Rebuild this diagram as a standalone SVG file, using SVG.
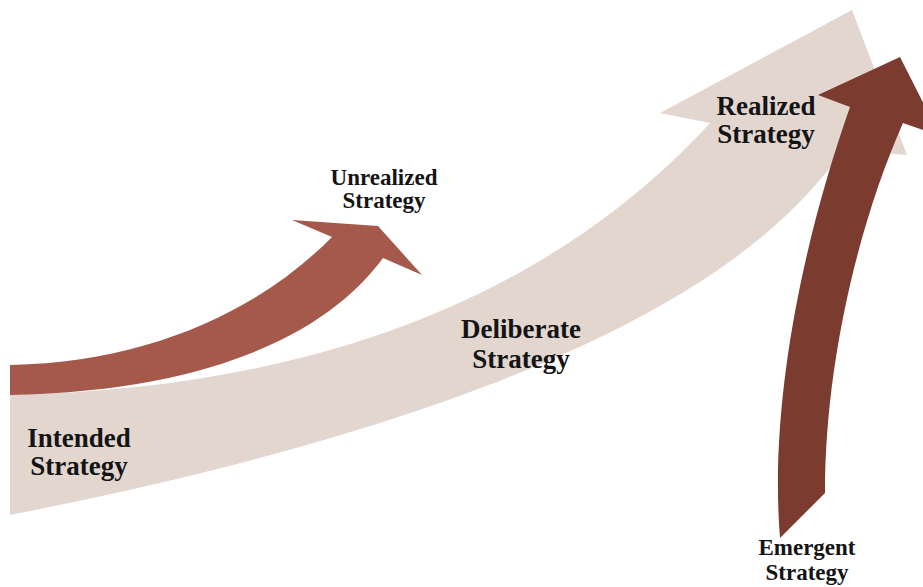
<svg xmlns="http://www.w3.org/2000/svg" width="923" height="587" viewBox="0 0 923 587">
<style>
.lbl{font-family:"Liberation Serif","Times New Roman",serif;font-weight:bold;fill:#141414;text-anchor:middle}
.big{font-size:27px}
.small{font-size:23px}
</style>
<rect width="923" height="587" fill="#ffffff"/>
<g id="connectors">
<g id="deliberate-arrow">
<path fill="#e2d6cf" d="M10,395 C250,390 520,330 710,123 L660,113 L852,10 L907,155 L845,150 C800,200 700,380 10,515 Z"/>
</g>
<g id="unrealized-arrow">
<path fill="#a4594b" d="M10,365 C150,362 260,310 332,237 L292,220 L378,226 L422,275 L383,258 C345,310 250,390 10,395 Z"/>
</g>
<g id="emergent-arrow">
<path fill="#7b3b2f" d="M780,538 C768,390 810,220 850,107 L818,95 L900,57 L940,136 L903,123 C860,220 825,360 825,493 Z"/>
</g>
</g>
<g id="node-intended">
<text class="lbl big" x="79" y="447">Intended</text>
<text class="lbl big" x="79" y="475">Strategy</text>
</g>
<g id="node-deliberate">
<text class="lbl big" x="521" y="338">Deliberate</text>
<text class="lbl big" x="521" y="368">Strategy</text>
</g>
<g id="node-unrealized">
<text class="lbl small" x="384" y="185">Unrealized</text>
<text class="lbl small" x="384" y="208">Strategy</text>
</g>
<g id="node-realized">
<text class="lbl big" x="766" y="115">Realized</text>
<text class="lbl big" x="766" y="143">Strategy</text>
</g>
<g id="node-emergent">
<text class="lbl small" x="807" y="555">Emergent</text>
<text class="lbl small" x="807" y="580">Strategy</text>
</g>
</svg>
